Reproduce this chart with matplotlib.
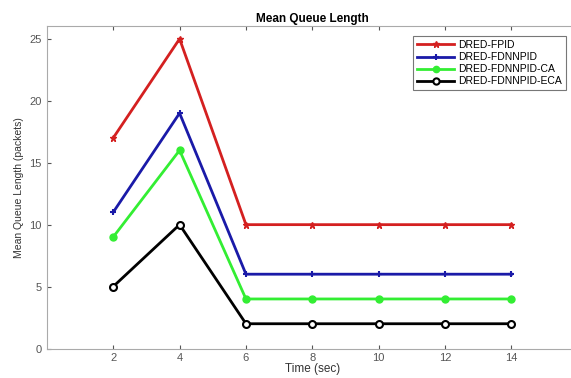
import matplotlib.pyplot as plt

time = [2, 4, 6, 8, 10, 12, 14]
fpid = [17, 25, 10, 10, 10, 10, 10]
fdnnpid = [11, 19, 6, 6, 6, 6, 6]
fdnnpid_ca = [9, 16, 4, 4, 4, 4, 4]
fdnnpid_eca = [5, 10, 2, 2, 2, 2, 2]
labels = ['DRED-FPID', 'DRED-FDNNPID', 'DRED-FDNNPID-CA', 'DRED-FDNNPID-ECA']
xticks = [2, 4, 6, 8, 10, 12, 14]
yticks = [0, 5, 10, 15, 20, 25]

plt.rcParams['font.family'] = ['Liberation Sans', 'DejaVu Sans']

fig = plt.figure(figsize=(5.71, 3.78), dpi=100)
ax = fig.add_axes([0.082, 0.078, 0.93, 0.852])

ax.plot(time, fpid, color='#d42020', lw=2, marker='*', ms=5, label=labels[0])
ax.plot(time, fdnnpid, color='#1a1aa8', lw=2, marker='+', ms=5, mew=1.5, label=labels[1])
ax.plot(time, fdnnpid_ca, color='#33ee33', lw=2, marker='o', ms=5, label=labels[2])
ax.plot(time, fdnnpid_eca, color='black', lw=2, marker='o', ms=5, mfc='white', mew=1.5, label=labels[3])

ax.set_xlim(0, 16)
ax.set_ylim(0, 26)
ax.set_xticks(xticks)
ax.set_yticks(yticks)
ax.tick_params(direction='in', length=3, colors='#555555', labelsize=8, top=True, right=True)
ax.tick_params(axis='x', pad=3)
for s in ax.spines.values():
    s.set_color('#aaaaaa')

ax.set_title('Mean Queue Length', fontsize=8.5, fontweight='bold', pad=3)
ax.set_xlabel('Time (sec)', fontsize=8.5, color='#333333', labelpad=0)
ax.set_ylabel('Mean Queue Length (packets)', fontsize=7.5, color='#333333', labelpad=4)

leg = ax.legend(loc='upper left', bbox_to_anchor=(0.68, 0.985), fontsize=7.5, frameon=True,
                fancybox=False, edgecolor='#555555', handlelength=3.6, labelspacing=0.2,
                borderpad=0.35, handletextpad=0.4, markerscale=0.9)
leg.get_frame().set_linewidth(0.8)

fig.savefig('out.png', dpi=100)
